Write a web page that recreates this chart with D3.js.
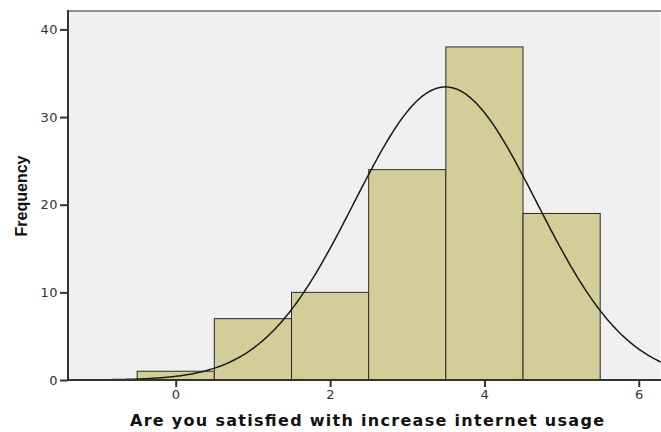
<!DOCTYPE html>
<html>
<head>
<meta charset="utf-8">
<script src="https://cdn.jsdelivr.net/npm/d3@7"></script>
<style>
  html, body { margin: 0; padding: 0; background: #fff; }
  svg { display: block; }
</style>
</head>
<body>
<svg id="chart" width="661" height="432"></svg>
<script>
// ---- data ----
const binCenters = [0, 1, 2, 3, 4, 5];
const frequencies = [1, 7, 10, 24, 38, 19];
const xTicks = [0, 2, 4, 6];
const yTicks = [0, 10, 20, 30, 40];
const xLabel = "Are you satisfied with increase internet usage";
const yLabel = "Frequency";
const binWidth = 1;

// ---- layout ----
const svg = d3.select("#chart");
const L = 68, R = 660, T = 11, B = 380;

const x = d3.scaleLinear().domain([-1.396, 6.275]).range([L, R]);
const y = d3.scaleLinear().domain([0, 42.1]).range([B, T]);

// plot background
svg.append("rect").attr("x", L).attr("y", T).attr("width", R - L).attr("height", B - T)
  .attr("fill", "#f0f0f0");
// top border
svg.append("line").attr("x1", L).attr("x2", 661).attr("y1", T).attr("y2", T)
  .attr("stroke", "#6e6e6e").attr("stroke-width", 1.5);

// bars
svg.append("g").selectAll("rect").data(binCenters).join("rect")
  .attr("x", (d) => x(d - binWidth / 2))
  .attr("width", (d) => x(d + binWidth / 2) - x(d - binWidth / 2))
  .attr("y", (d, i) => y(frequencies[i]))
  .attr("height", (d, i) => y(0) - y(frequencies[i]))
  .attr("fill", "#d3ce97")
  .attr("stroke", "#2b2b2b")
  .attr("stroke-width", 1);

// normal curve from the data's mean and sd
const N = d3.sum(frequencies);
const mean = d3.sum(binCenters.map((c, i) => c * frequencies[i])) / N;
const ss = d3.sum(binCenters.map((c, i) => frequencies[i] * (c - mean) ** 2));
const sd = Math.sqrt(ss / (N - 1));
const curveX = d3.range(x.domain()[0], x.domain()[1] + 0.01, 0.02);
const line = d3.line()
  .x((d) => x(d))
  .y((d) => y(N * binWidth / (sd * Math.sqrt(2 * Math.PI)) * Math.exp(-0.5 * ((d - mean) / sd) ** 2)));
svg.append("path").datum(curveX).attr("d", line)
  .attr("fill", "none").attr("stroke", "#1a1a1a").attr("stroke-width", 1.5);

// axes
const yAxis = svg.append("g").attr("transform", `translate(${L},0)`)
  .call(d3.axisLeft(y).tickValues(yTicks).tickSize(8).tickPadding(2).tickFormat(d3.format("d")));
const xAxis = svg.append("g").attr("transform", `translate(0,${B})`)
  .call(d3.axisBottom(x).tickValues(xTicks).tickSize(7).tickPadding(3).tickFormat(d3.format("d")));
[yAxis, xAxis].forEach((g) => {
  g.select(".domain").remove();
  g.selectAll(".tick line").attr("stroke", "#333").attr("stroke-width", 2);
  g.selectAll(".tick text").attr("fill", "#333").attr("font-family", "DejaVu Sans, sans-serif")
    .attr("font-size", 13).attr("letter-spacing", 0.5);
});
// axis lines
svg.append("line").attr("x1", L).attr("x2", L).attr("y1", T - 1).attr("y2", B + 1)
  .attr("stroke", "#333").attr("stroke-width", 2);
svg.append("line").attr("x1", L - 1).attr("x2", 661).attr("y1", B).attr("y2", B)
  .attr("stroke", "#333").attr("stroke-width", 2);

// axis titles
svg.append("text").attr("x", 130).attr("y", 426)
  .attr("font-family", "DejaVu Sans, sans-serif").attr("font-weight", "bold").attr("font-size", 16)
  .attr("textLength", 474).attr("lengthAdjust", "spacing")
  .attr("fill", "#111").text(xLabel);
svg.append("text").attr("transform", "translate(27,196) rotate(-90)").attr("text-anchor", "middle")
  .attr("font-family", "Liberation Sans, Arial, sans-serif").attr("font-weight", "bold").attr("font-size", 16)
  .attr("fill", "#111").text(yLabel);
</script>
</body>
</html>
